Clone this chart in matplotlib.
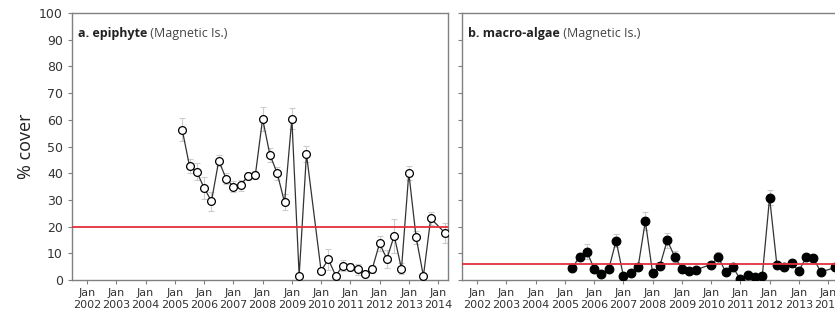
import numpy as np
import matplotlib
matplotlib.use("Agg")
import matplotlib.pyplot as plt

# quarterly survey dates (decimal years), same for both panels
dates = [2005.25, 2005.5, 2005.75, 2006.0, 2006.25, 2006.5, 2006.75, 2007.0,
         2007.25, 2007.5, 2007.75, 2008.0, 2008.25, 2008.5, 2008.75, 2009.0,
         2009.25, 2009.5, 2010.0, 2010.25, 2010.5, 2010.75, 2011.0, 2011.25,
         2011.5, 2011.75, 2012.0, 2012.25, 2012.5, 2012.75, 2013.0, 2013.25,
         2013.5, 2013.75, 2014.25]

epiphyte = [56.3, 42.7, 40.5, 34.5, 29.5, 44.7, 38.0, 35.0, 35.5, 39.0, 39.2,
            60.4, 46.9, 40.0, 29.1, 60.4, 1.6, 47.2, 3.5, 7.7, 1.6, 5.4, 4.8,
            4.0, 2.2, 4.2, 13.7, 7.9, 16.6, 4.2, 40.1, 16.0, 1.5, 23.1, 17.5]
epiphyte_se = [4.3, 2.5, 3.2, 4.0, 3.5, 2.0, 2.0, 2.0, 2.0, 1.5, 1.5,
               4.6, 2.5, 2.5, 3.0, 4.0, 0.5, 3.0, 1.0, 4.0, 0.8, 2.0, 1.5,
               2.0, 1.0, 1.5, 2.8, 3.5, 6.3, 2.0, 2.6, 2.5, 0.5, 2.5, 3.8]

macroalgae = [4.4, 8.8, 10.6, 4.3, 2.2, 4.1, 14.7, 1.5, 2.7, 4.7, 22.0, 2.5,
              5.4, 14.9, 8.8, 4.3, 3.5, 3.9, 5.8, 8.5, 2.9, 4.7, 0.25, 1.9,
              1.1, 1.5, 30.9, 5.6, 5.0, 6.2, 3.4, 8.5, 8.2, 3.0, 4.7]
macroalgae_se = [1.0, 1.5, 2.8, 1.0, 0.8, 1.0, 2.4, 0.5, 0.8, 1.0, 3.4, 0.8,
                 1.0, 2.8, 2.0, 1.0, 0.8, 0.8, 1.0, 2.0, 0.8, 1.0, 0.3, 0.6,
                 0.5, 0.5, 2.8, 1.0, 1.0, 1.0, 0.8, 1.0, 1.0, 0.8, 1.0]

thresholds = [20, 6]
panel_bold = ["a. epiphyte", "b. macro-algae"]
panel_rest = [" (Magnetic Is.)", " (Magnetic Is.)"]
years = list(range(2002, 2015))
tick_labels = ["Jan\n%d" % y for y in years]

tick_font = ["Liberation Sans Narrow", "DejaVu Sans"]
spine_col = "#808080"

fig = plt.figure(figsize=(8.35, 3.2), dpi=100)
ax_a = fig.add_axes([0.0862, 0.125, 0.4503, 0.834])
ax_b = fig.add_axes([0.5533, 0.125, 0.4503, 0.834])

series = [(ax_a, epiphyte, epiphyte_se, "white"), (ax_b, macroalgae, macroalgae_se, "black")]
for i, (ax, vals, se, face) in enumerate(series):
    ax.errorbar(dates, vals, yerr=se, fmt="none", ecolor="#cccccc", elinewidth=0.8,
                capsize=2.5, capthick=0.8, zorder=2)
    ms = 5.6 if face == "white" else 6.2
    ax.plot(dates, vals, color="#333333", lw=0.9, marker="o", ms=ms,
            mfc=face, mec="black", mew=0.9, zorder=3)
    ax.axhline(thresholds[i], color="#e0303a", lw=1.3, zorder=4)

    ax.set_xlim(2001.48, 2014.34)
    ax.set_ylim(0, 100)
    ax.set_yticks(range(0, 101, 10))
    ax.set_xticks(years)
    ax.set_xticklabels(tick_labels, family=tick_font, fontsize=8, color="#333333",
                       linespacing=1.25)
    for s in ax.spines.values():
        s.set_color(spine_col)
        s.set_linewidth(1.0)
    ax.tick_params(axis="both", direction="out", length=3, width=0.8, color=spine_col)
    ax.tick_params(axis="x", pad=3)

    t = ax.text(0.016, 0.925, panel_bold[i], transform=ax.transAxes, fontsize=9,
                fontweight="bold", family="Open Sans", color="#222222", va="center")
    ax.annotate(panel_rest[i], xy=(1, 0.5), xycoords=t, va="center", fontsize=9,
                family="Open Sans", color="#444444")

ax_a.set_yticklabels([str(v) for v in range(0, 101, 10)], family=tick_font,
                     fontsize=9, color="#333333")
ax_b.set_yticklabels([])
ax_a.set_ylabel("% cover", fontsize=13, family="Open Sans", color="#222222", labelpad=3)

fig.savefig("out.png", dpi=100)
